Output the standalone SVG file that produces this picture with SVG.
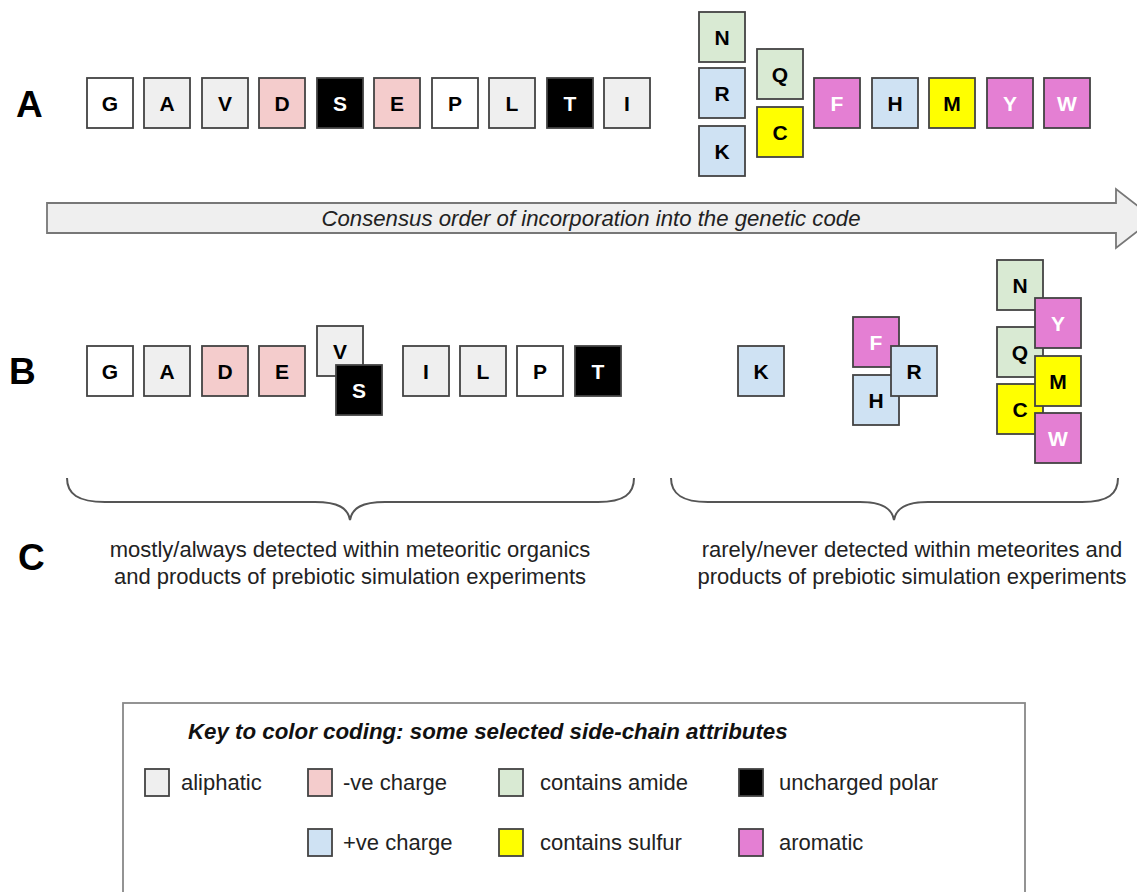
<svg xmlns="http://www.w3.org/2000/svg" width="1137" height="892" viewBox="0 0 1137 892">
<style>
  .bx rect { stroke: #434343; stroke-width: 1.8; }
  .bx text { font-family: "Liberation Sans", Arial, sans-serif; font-weight: bold; font-size: 21px; text-anchor: middle; fill: #000; }
  .bx text.w { fill: #fff; }
  .wh { fill: #ffffff; }
  .al { fill: #efefef; }
  .ng { fill: #f4cccc; }
  .am { fill: #d9ead3; }
  .ps { fill: #cfe2f3; }
  .su { fill: #ffff00; }
  .ar { fill: #e47fd3; }
  .up { fill: #000000; }
  .lbl { font-family: "Liberation Sans", Arial, sans-serif; font-weight: bold; font-size: 37px; fill: #000; }
  .txt { font-family: "Liberation Sans", Arial, sans-serif; font-size: 22px; fill: #222; }
  .sw { stroke: #434343; stroke-width: 1.8; }
  .brace { fill: none; stroke: #555; stroke-width: 2; }
</style>

<g id="labels">
  <text class="lbl" x="16" y="117">A</text>
  <text class="lbl" x="9" y="384">B</text>
  <text class="lbl" x="18" y="570">C</text>
</g>

<g id="arrow">
  <path d="M47 203 L1116 203 L1116 189 L1154 218.5 L1116 248 L1116 233 L47 233 Z" fill="#efefef" stroke="#777" stroke-width="1.8"/>
  <text x="591" y="226" text-anchor="middle" font-family="Liberation Sans, Arial, sans-serif" font-style="italic" font-size="22.2" fill="#222">Consensus order of incorporation into the genetic code</text>
</g>

<!-- Row A -->
<g id="rowA">
  <g id="A-G" class="bx"><rect class="wh" x="87" y="78" width="46" height="50"/><text x="110" y="110.5">G</text></g>
  <g id="A-A" class="bx"><rect class="al" x="144" y="78" width="46" height="50"/><text x="167" y="110.5">A</text></g>
  <g id="A-V" class="bx"><rect class="al" x="202" y="78" width="46" height="50"/><text x="225" y="110.5">V</text></g>
  <g id="A-D" class="bx"><rect class="ng" x="259" y="78" width="46" height="50"/><text x="282" y="110.5">D</text></g>
  <g id="A-S" class="bx"><rect class="up" x="317" y="78" width="46" height="50"/><text class="w" x="340" y="110.5">S</text></g>
  <g id="A-E" class="bx"><rect class="ng" x="374" y="78" width="46" height="50"/><text x="397" y="110.5">E</text></g>
  <g id="A-P" class="bx"><rect class="wh" x="432" y="78" width="46" height="50"/><text x="455" y="110.5">P</text></g>
  <g id="A-L" class="bx"><rect class="al" x="489" y="78" width="46" height="50"/><text x="512" y="110.5">L</text></g>
  <g id="A-T" class="bx"><rect class="up" x="547" y="78" width="46" height="50"/><text class="w" x="570" y="110.5">T</text></g>
  <g id="A-I" class="bx"><rect class="al" x="604" y="78" width="46" height="50"/><text x="627" y="110.5">I</text></g>
  <g id="A-N" class="bx"><rect class="am" x="699" y="12" width="46" height="50"/><text x="722" y="44.5">N</text></g>
  <g id="A-R" class="bx"><rect class="ps" x="699" y="68" width="46" height="50"/><text x="722" y="100.5">R</text></g>
  <g id="A-K" class="bx"><rect class="ps" x="699" y="126" width="46" height="50"/><text x="722" y="158.5">K</text></g>
  <g id="A-Q" class="bx"><rect class="am" x="757" y="49" width="46" height="50"/><text x="780" y="81.5">Q</text></g>
  <g id="A-C" class="bx"><rect class="su" x="757" y="107" width="46" height="50"/><text x="780" y="139.5">C</text></g>
  <g id="A-F" class="bx"><rect class="ar" x="814" y="78" width="46" height="50"/><text class="w" x="837" y="110.5">F</text></g>
  <g id="A-H" class="bx"><rect class="ps" x="872" y="78" width="46" height="50"/><text x="895" y="110.5">H</text></g>
  <g id="A-M" class="bx"><rect class="su" x="929" y="78" width="46" height="50"/><text x="952" y="110.5">M</text></g>
  <g id="A-Y" class="bx"><rect class="ar" x="987" y="78" width="46" height="50"/><text class="w" x="1010" y="110.5">Y</text></g>
  <g id="A-W" class="bx"><rect class="ar" x="1044" y="78" width="46" height="50"/><text class="w" x="1067" y="110.5">W</text></g>
</g>

<!-- Row B -->
<g id="rowB">
  <g id="B-G" class="bx"><rect class="wh" x="87" y="346" width="46" height="50"/><text x="110" y="378.5">G</text></g>
  <g id="B-A" class="bx"><rect class="al" x="144" y="346" width="46" height="50"/><text x="167" y="378.5">A</text></g>
  <g id="B-D" class="bx"><rect class="ng" x="202" y="346" width="46" height="50"/><text x="225" y="378.5">D</text></g>
  <g id="B-E" class="bx"><rect class="ng" x="259" y="346" width="46" height="50"/><text x="282" y="378.5">E</text></g>
  <g id="B-V" class="bx"><rect class="al" x="317" y="326" width="46" height="50"/><text x="340" y="358.5">V</text></g>
  <g id="B-S" class="bx"><rect class="up" x="336" y="365" width="46" height="50"/><text class="w" x="359" y="397.5">S</text></g>
  <g id="B-I" class="bx"><rect class="al" x="403" y="346" width="46" height="50"/><text x="426" y="378.5">I</text></g>
  <g id="B-L" class="bx"><rect class="al" x="460" y="346" width="46" height="50"/><text x="483" y="378.5">L</text></g>
  <g id="B-P" class="bx"><rect class="wh" x="517" y="346" width="46" height="50"/><text x="540" y="378.5">P</text></g>
  <g id="B-T" class="bx"><rect class="up" x="575" y="346" width="46" height="50"/><text class="w" x="598" y="378.5">T</text></g>
  <g id="B-K" class="bx"><rect class="ps" x="738" y="346" width="46" height="50"/><text x="761" y="378.5">K</text></g>
  <g id="B-F" class="bx"><rect class="ar" x="853" y="317" width="46" height="50"/><text class="w" x="876" y="349.5">F</text></g>
  <g id="B-H" class="bx"><rect class="ps" x="853" y="375" width="46" height="50"/><text x="876" y="407.5">H</text></g>
  <g id="B-R" class="bx"><rect class="ps" x="891" y="346" width="46" height="50"/><text x="914" y="378.5">R</text></g>
  <g id="B-N" class="bx"><rect class="am" x="997" y="260" width="46" height="50"/><text x="1020" y="292.5">N</text></g>
  <g id="B-Q" class="bx"><rect class="am" x="997" y="327" width="46" height="50"/><text x="1020" y="359.5">Q</text></g>
  <g id="B-C" class="bx"><rect class="su" x="997" y="384" width="46" height="50"/><text x="1020" y="416.5">C</text></g>
  <g id="B-Y" class="bx"><rect class="ar" x="1035" y="298" width="46" height="50"/><text class="w" x="1058" y="330.5">Y</text></g>
  <g id="B-M" class="bx"><rect class="su" x="1035" y="356" width="46" height="50"/><text x="1058" y="388.5">M</text></g>
  <g id="B-W" class="bx"><rect class="ar" x="1035" y="413" width="46" height="50"/><text class="w" x="1058" y="445.5">W</text></g>
</g>

<g id="braces">
  <path class="brace" d="M67 478 C67 494 78 502 105 502 L315 502 C338 502 348 508 350 520 C352 508 362 502 385 502 L598 502 C624 502 634 494 634 478"/>
  <path class="brace" d="M671 478 C671 494 682 502 708 502 L860 502 C882 502 892 508 894 520 C896 508 906 502 928 502 L1082 502 C1108 502 1118 494 1118 478"/>
</g>

<g id="captions">
  <text class="txt" x="350" y="557" text-anchor="middle">mostly/always detected within meteoritic organics</text>
  <text class="txt" x="350" y="584" text-anchor="middle">and products of prebiotic simulation experiments</text>
  <text class="txt" x="912" y="557" text-anchor="middle">rarely/never detected within meteorites and</text>
  <text class="txt" x="912" y="584" text-anchor="middle">products of prebiotic simulation experiments</text>
</g>

<g id="legend">
  <rect x="123" y="703" width="902" height="200" fill="#fff" stroke="#888" stroke-width="1.8"/>
  <text x="188" y="739" font-family="Liberation Sans, Arial, sans-serif" font-weight="bold" font-style="italic" font-size="22.3" fill="#111">Key to color coding: some selected side-chain attributes</text>
  <rect class="sw al" x="145" y="769" width="24" height="27"/><text class="txt" x="181" y="790">aliphatic</text>
  <rect class="sw ng" x="308" y="769" width="24" height="27"/><text class="txt" x="343" y="790">-ve charge</text>
  <rect class="sw am" x="499" y="769" width="24" height="27"/><text class="txt" x="540" y="790">contains amide</text>
  <rect class="sw up" x="739" y="769" width="24" height="27"/><text class="txt" x="779" y="790">uncharged polar</text>
  <rect class="sw ps" x="308" y="829" width="24" height="27"/><text class="txt" x="343" y="850">+ve charge</text>
  <rect class="sw su" x="499" y="829" width="24" height="27"/><text class="txt" x="540" y="850">contains sulfur</text>
  <rect class="sw ar" x="739" y="829" width="24" height="27"/><text class="txt" x="779" y="850">aromatic</text>
</g>
</svg>
